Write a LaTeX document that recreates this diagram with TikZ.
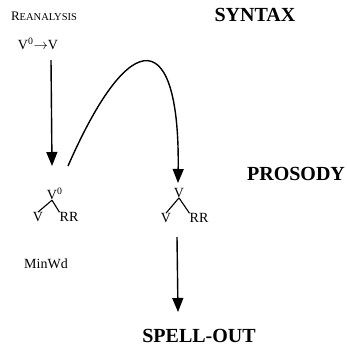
\documentclass[tikz,border=0pt]{standalone}
\usepackage{fontspec}
\setmainfont{Liberation Serif}
\usetikzlibrary{arrows.meta, positioning}

\tikzset{
  levelname/.style={font=\fontsize{20}{22}\selectfont\bfseries, inner sep=0pt},
  treelabel/.style={font=\fontsize{14}{16}\selectfont, inner sep=0pt},
  flow/.style={line width=1.4pt, -{Triangle[length=14pt,width=11pt]}},
  branch/.style={line width=1.1pt},
}

\begin{document}
\begin{tikzpicture}[x=1pt, y=-1pt]
\useasboundingbox (0,0) rectangle (346,351);

% levels
\node[levelname] (syntax) at (255,15) {SYNTAX};
\node[levelname] (prosody) at (296,174) {PROSODY};
\node[levelname] (spellout) at (199,336) {SPELL-OUT};

% reanalysis rule
\node[inner sep=0pt] (reanalysis) at (44,16) {\fontsize{13}{14}\selectfont R\fontsize{10.5}{12}\selectfont EANALYSIS};
\node[treelabel] (rule) at (38,44) {V\textsuperscript{0}$\rightarrow$V};

% first tree
\node[treelabel] (vzero) at (52,194) {V\rlap{\textsuperscript{0}}};
\node[treelabel] (vleftA) at (38,217) {V};
\node[treelabel] (rrA) at (69,217) {RR};
\draw[branch] (vzero.south) -- (vleftA.north);
\draw[branch] (vzero.south) -- (rrA.north west);
\node[treelabel] (minwd) at (46,264) {MinWd};

% second tree
\node[treelabel] (vtwo) at (179,193) {V};
\node[treelabel] (vleftB) at (166,218) {V};
\node[treelabel] (rrB) at (199,218) {RR};
\draw[branch] (vtwo.south) -- (vleftB.north);
\draw[branch] (vtwo.south) -- (rrB.north west);

% arrows
\coordinate (ruletail) at (51,60);
\coordinate (ruletip) at (52,166);
\coordinate (bendstart) at (68,166);
\coordinate (bendtip) at (178,183);
\coordinate (outtail) at (177,237);
\coordinate (outtip) at (178,312);
\draw[flow] (ruletail) -- (ruletip);
\draw[flow] (bendstart) .. controls (132,20) and (180,30) .. (bendtip);
\draw[flow] (outtail) -- (outtip);
\end{tikzpicture}
\end{document}
